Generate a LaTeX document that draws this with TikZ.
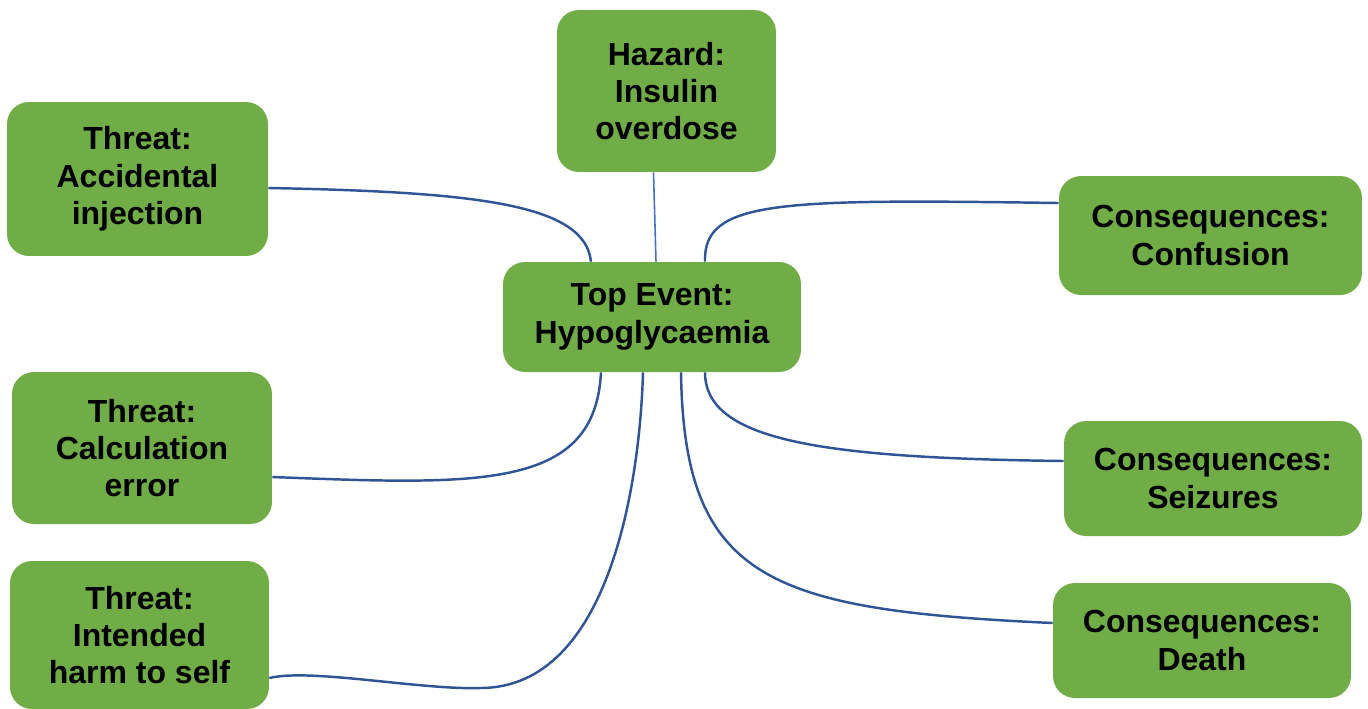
\documentclass[tikz,border=0pt]{standalone}
\usepackage{fontspec}
\setmainfont{Liberation Sans}
\usetikzlibrary{calc}
\definecolor{boxgreen}{HTML}{70AD47}
\definecolor{linkblue}{HTML}{2F5597}
\definecolor{hazblue}{HTML}{4472C4}

\begin{document}
\begin{tikzpicture}[x=0.02cm,y=-0.02cm,
  card/.style={fill=boxgreen,draw=none,rounded corners=0.44cm,align=center,inner sep=0pt,
    font=\bfseries\fontsize{18.2pt}{21.3pt}\selectfont},
  link/.style={draw=linkblue,line width=1.4pt}]
\useasboundingbox (0,0) rectangle (1368,708);
\node[card,minimum width=4.38cm,minimum height=3.24cm] (haz) at (666.5,91) {Hazard:\\Insulin\\overdose};
\node[card,minimum width=5.96cm,minimum height=2.2cm] (top) at (652,317) {Top Event:\\Hypoglycaemia};
\node[card,minimum width=5.22cm,minimum height=3.08cm] (acc) at (137.5,179) {Threat:\\Accidental\\injection};
\node[card,minimum width=5.2cm,minimum height=3.04cm] (calc) at (142,448) {Threat:\\Calculation\\error};
\node[card,minimum width=5.18cm,minimum height=2.96cm] (self) at (139.5,635) {Threat:\\Intended\\harm to self};
\node[card,minimum width=6.06cm,minimum height=2.38cm] (conf) at (1210.5,235.5) {Consequences:\\Confusion};
\node[card,minimum width=5.96cm,minimum height=2.3cm] (seiz) at (1213,478.5) {Consequences:\\Seizures};
\node[card,minimum width=5.96cm,minimum height=2.3cm] (death) at (1202,640.5) {Consequences:\\Death};
% hazard sits straight above the top event
\draw[hazblue,line width=0.9pt] ($(haz.south)+(-13,0)$) -- ($(top.north)+(4,0)$);
% threats come in from the left
\draw[link] ($(acc.east)+(0,9)$) .. controls +(212,4) and +(-6,-57) .. ($(top.north)+(-61,0)$);
\draw[link] ($(calc.east)+(0,29)$) .. controls +(208,8) and +(-6,118) .. ($(top.south)+(-51,0)$);
\draw[link] ($(self.east)+(0,43)$) .. controls +(41,-10) and +(-60,2) .. ++(211,10)
  .. controls +(130,0) and +(-3,108) .. ($(top.south)+(-9,0)$);
% consequences go out to the right
\draw[link] ($(top.north)+(53,0)$) .. controls +(-2,-62) and +(-279,-4) .. ($(conf.west)+(0,-32.5)$);
\draw[link] ($(top.south)+(53,0)$) .. controls +(0,68) and +(-244,-3) .. ($(seiz.west)+(0,-17.5)$);
\draw[link] ($(top.south)+(29,0)$) .. controls +(3,208) and +(-283,-13) .. ($(death.west)+(0,-17.5)$);
\end{tikzpicture}
\end{document}
